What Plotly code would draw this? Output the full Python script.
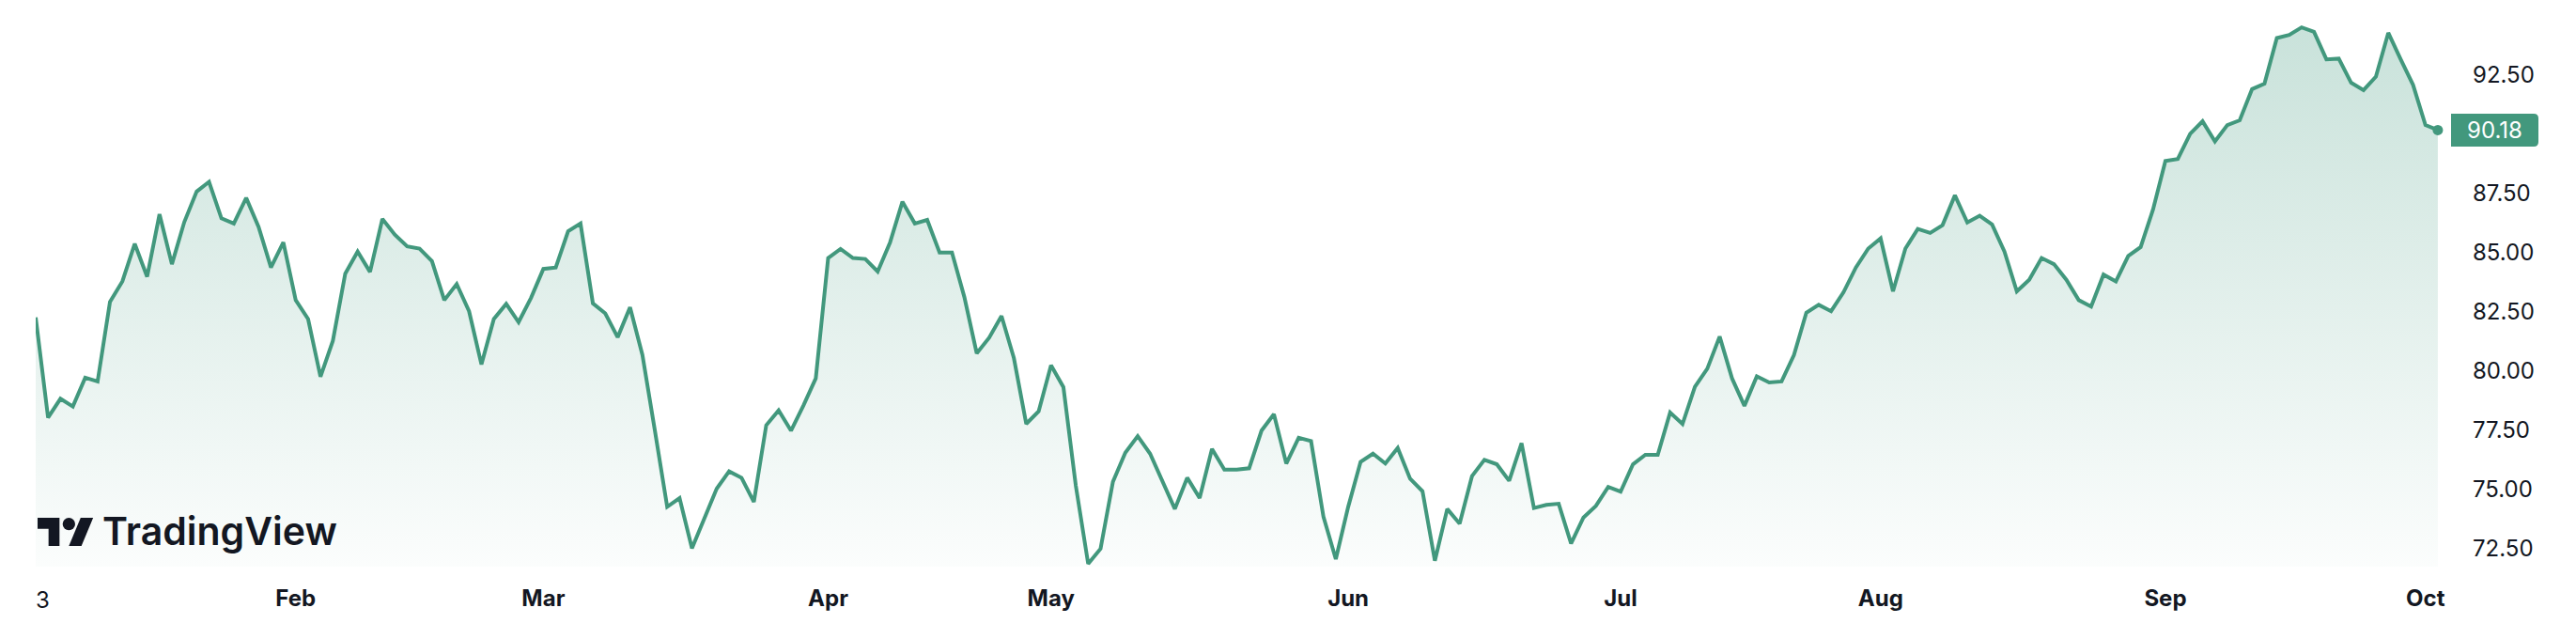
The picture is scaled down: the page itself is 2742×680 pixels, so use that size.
import plotly.graph_objects as go

# ---------------- data ----------------
prices = [
    82.26, 78.02, 78.82, 78.49, 79.71, 79.55, 82.92, 83.78, 85.37, 83.98,
    86.62, 84.51, 86.29, 87.58, 87.99, 86.45, 86.23, 87.31, 86.09, 84.37,
    85.43, 82.99, 82.19, 79.75, 81.27, 84.11, 85.04, 84.18, 86.42, 85.76,
    85.26, 85.17, 84.64, 82.99, 83.67, 82.52, 80.27, 82.19, 82.83, 82.06,
    83.08, 84.31, 84.37, 85.90, 86.23, 82.85, 82.43, 81.42, 82.69, 80.67,
    77.50, 74.25, 74.62, 72.50, 73.76, 75.02, 75.75, 75.48, 74.46, 77.70,
    78.33, 77.47, 78.53, 79.68, 84.77, 85.15, 84.77, 84.73, 84.20, 85.43,
    87.15, 86.23, 86.38, 85.00, 85.00, 83.12, 80.74, 81.40, 82.32, 80.54,
    77.76, 78.29, 80.23, 79.31, 75.15, 71.84, 72.48, 75.31, 76.54, 77.24,
    76.50, 75.35, 74.16, 75.48, 74.62, 76.70, 75.82, 75.82, 75.88, 77.47,
    78.17, 76.08, 77.17, 77.03, 73.83, 72.04, 74.25, 76.15, 76.50, 76.08,
    76.74, 75.44, 74.91, 71.97, 74.16, 73.54, 75.55, 76.24, 76.05, 75.35,
    76.94, 74.20, 74.33, 74.38, 72.70, 73.80, 74.29, 75.09, 74.89, 76.05,
    76.45, 76.45, 78.24, 77.75, 79.32, 80.09, 81.45, 79.68, 78.52, 79.77,
    79.51, 79.55, 80.67, 82.46, 82.79, 82.52, 83.32, 84.37, 85.17, 85.60,
    83.36, 85.17, 86.00, 85.83, 86.16, 87.42, 86.27, 86.56, 86.19, 85.04,
    83.36, 83.85, 84.77, 84.51, 83.85, 82.99, 82.72, 84.07, 83.78, 84.86,
    85.23, 86.82, 88.87, 88.96, 90.02, 90.55, 89.70, 90.39, 90.59, 91.91,
    92.14, 94.07, 94.20, 94.52, 94.33, 93.17, 93.20, 92.18, 91.87, 92.44,
    94.29, 93.17, 92.09, 90.39, 90.18,
]
bar_index = list(range(len(prices)))

month_labels = ["Feb", "Mar", "Apr", "May", "Jun", "Jul", "Aug", "Sep", "Oct"]
month_index = [21, 41, 64, 82, 106, 128, 149, 172, 193]
year_label = "3"

price_ticks = [72.5, 75.0, 77.5, 80.0, 82.5, 85.0, 87.5, 92.5]
price_tick_text = [f"{v:.2f}" for v in price_ticks]

# ---------------- layout geometry ----------------
FIG_W, FIG_H = 2742, 680
PLOT_L, PLOT_R, PLOT_T, PLOT_B = 38, 2603, 0, 603
PX_PER_BAR = 13.18
PX_PER_UNIT = 25.17
REF_VAL, REF_PX = 92.5, 80.0

y_top = REF_VAL + (REF_PX - PLOT_T) / PX_PER_UNIT
y_bot = REF_VAL - (PLOT_B - REF_PX) / PX_PER_UNIT
x_max = (PLOT_R - PLOT_L) / PX_PER_BAR

PW = PLOT_R - PLOT_L
PH = PLOT_B - PLOT_T


def px(xp):
    return (xp - PLOT_L) / PW


def py(yp):
    return 1 - (yp - PLOT_T) / PH


LINE = "#42987d"
TEXT = "#131722"
FONT = "Inter"

fig = go.Figure()

fig.add_trace(go.Scatter(
    x=bar_index, y=prices, mode="lines",
    line=dict(color=LINE, width=4),
    fill="tozeroy",
    fillgradient=dict(
        type="vertical", start=y_bot, stop=y_top,
        colorscale=[[0, "rgba(66,154,127,0.02)"], [1, "rgba(66,154,127,0.30)"]],
    ),
    hoverinfo="skip", showlegend=False,
))

fig.add_trace(go.Scatter(
    x=[bar_index[-1]], y=[prices[-1]], mode="markers",
    marker=dict(color=LINE, size=11),
    cliponaxis=False, hoverinfo="skip", showlegend=False,
))

# last-price label box on the price scale
bx0, bx1 = 2609, 2702
bh = 35 / PX_PER_UNIT / 2
last = prices[-1]
r = 5
rx = r / PW
ry = r / PX_PER_UNIT
X0, X1 = 1 + (bx0 - PLOT_R) / PW, 1 + (bx1 - PLOT_R) / PW
fig.add_shape(
    type="path", xref="paper", yref="y",
    path=(f"M{X0},{last - bh} L{X1 - rx},{last - bh} Q{X1},{last - bh} {X1},{last - bh + ry} "
          f"L{X1},{last + bh - ry} Q{X1},{last + bh} {X1 - rx},{last + bh} L{X0},{last + bh} Z"),
    fillcolor=LINE, line=dict(width=0), layer="above",
)
fig.add_annotation(
    xref="paper", yref="y", x=(X0 + X1) / 2, y=last,
    text=f"{last:.2f}", showarrow=False,
    font=dict(family=FONT, size=24, color="white"),
    xanchor="center", yanchor="middle",
)

# clipped year label at the left edge of the time scale
fig.add_annotation(
    xref="x", yref="paper", x=0, y=py(638), xshift=-2,
    text=year_label, showarrow=False, xanchor="left", yanchor="middle",
    font=dict(family=FONT, size=24, color=TEXT),
)

# TradingView logo
s = 1.667
ox, oy = 40, 544.3


def P(a, b):
    return f"{px(ox + a * s)},{py(oy + b * s)}"


fig.add_shape(type="path", xref="paper", yref="paper",
              path=f"M{P(14,22)} L{P(7,22)} L{P(7,11)} L{P(0,11)} L{P(0,4)} L{P(14,4)} Z",
              fillcolor=TEXT, line=dict(width=0), layer="above")
fig.add_shape(type="path", xref="paper", yref="paper",
              path=f"M{P(28,22)} L{P(20,22)} L{P(27.5,4)} L{P(35.5,4)} Z",
              fillcolor=TEXT, line=dict(width=0), layer="above")
fig.add_shape(type="circle", xref="paper", yref="paper",
              x0=px(ox + 16 * s), x1=px(ox + 24 * s), y0=py(oy + 4 * s), y1=py(oy + 12 * s),
              fillcolor=TEXT, line=dict(width=0), layer="above")
fig.add_annotation(
    xref="paper", yref="paper", x=px(107), y=py(565),
    text="TradingView", showarrow=False, xanchor="left", yanchor="middle",
    font=dict(family=FONT, size=41, color=TEXT, weight=600),
)

fig.update_layout(
    width=FIG_W, height=FIG_H,
    margin=dict(l=PLOT_L, r=FIG_W - PLOT_R, t=PLOT_T, b=FIG_H - PLOT_B),
    paper_bgcolor="white", plot_bgcolor="white",
    showlegend=False,
    xaxis=dict(
        range=[0, x_max], showgrid=False, zeroline=False, showline=False,
        tickmode="array", tickvals=month_index, ticktext=month_labels,
        ticks="", ticklabelstandoff=17,
        tickfont=dict(family=FONT, size=24, color=TEXT, weight="bold"),
        fixedrange=True,
    ),
    yaxis=dict(
        range=[y_bot, y_top], side="right", showgrid=False, zeroline=False,
        showline=False, tickmode="array", tickvals=price_ticks, ticktext=price_tick_text,
        ticks="", ticklabelstandoff=28,
        tickfont=dict(family=FONT, size=24, color=TEXT),
        fixedrange=True,
    ),
)

fig.write_html(
    "out.html",
    config={"displayModeBar": False, "staticPlot": True},
    post_script="document.documentElement.style.margin='0';document.body.style.margin='0';document.body.style.overflow='hidden';",
)
